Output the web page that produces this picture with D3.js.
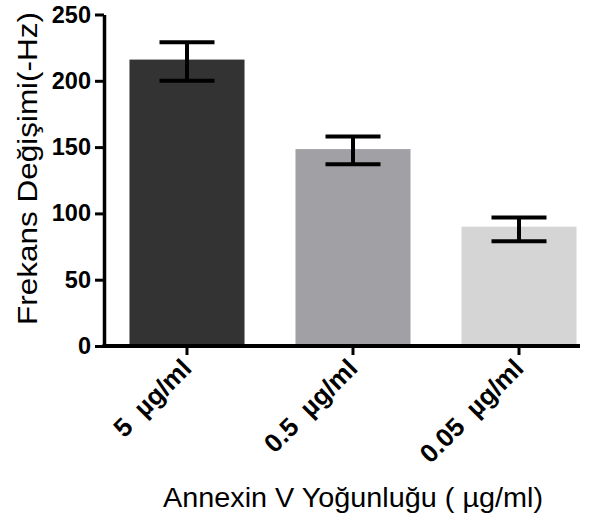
<!DOCTYPE html>
<html>
<head>
<meta charset="utf-8">
<script src="https://cdn.jsdelivr.net/npm/d3@7/dist/d3.min.js"></script>
<style>
  html, body { margin: 0; padding: 0; background: #fff; }
  svg { display: block; }
  text { font-family: "Liberation Sans", Arial, sans-serif; fill: #000; }
</style>
</head>
<body>
<svg id="chart" width="595" height="521"></svg>
<script>
// Frequency shift per Annexin V concentration (mean with error range)
const categories = ["5  µg/ml", "0.5  µg/ml", "0.05  µg/ml"];
const means      = [216, 148.5, 90];
const errHigh    = [229, 158, 97];
const errLow     = [200, 137, 79];
const barColors  = ["#333333", "#a1a1a5", "#d5d5d5"];
const yTicks     = [0, 50, 100, 150, 200, 250];
const yTitle     = "Frekans Değişimi(-Hz)";
const xTitle     = "Annexin V Yoğunluğu ( µg/ml)";

const svg = d3.select("#chart");

const x0 = 104, xEnd = 580;
const y = d3.scaleLinear().domain([0, 250]).range([346, 14.5]);
const x = d3.scaleBand()
  .domain(categories)
  .range([x0, x0 + 498])
  .paddingInner(0.307)
  .paddingOuter(0.1535);

// bars
svg.append("g").selectAll("rect")
  .data(categories)
  .join("rect")
  .attr("x", d => x(d))
  .attr("width", x.bandwidth())
  .attr("y", (d, i) => y(means[i]))
  .attr("height", (d, i) => y(0) - y(means[i]))
  .attr("fill", (d, i) => barColors[i]);

// error bars
const capW = 55;
const eb = svg.append("g").attr("stroke", "#000").attr("stroke-width", 4).attr("fill", "none");
categories.forEach((c, i) => {
  const cx = x(c) + x.bandwidth() / 2;
  eb.append("line").attr("x1", cx).attr("x2", cx).attr("y1", y(errHigh[i])).attr("y2", y(errLow[i]));
  eb.append("line").attr("x1", cx - capW / 2).attr("x2", cx + capW / 2).attr("y1", y(errHigh[i])).attr("y2", y(errHigh[i]));
  eb.append("line").attr("x1", cx - capW / 2).attr("x2", cx + capW / 2).attr("y1", y(errLow[i])).attr("y2", y(errLow[i]));
});

// y axis
const yAxis = svg.append("g")
  .attr("transform", `translate(${x0},0)`)
  .call(d3.axisLeft(y).tickValues(yTicks).tickSize(9).tickSizeOuter(0).tickPadding(4));
yAxis.select(".domain").attr("stroke-width", 3.5);
yAxis.selectAll(".tick line").attr("stroke-width", 3);
yAxis.selectAll(".tick text")
  .attr("font-size", 23.5).attr("font-weight", "bold")
  .attr("font-family", "Liberation Sans, Arial, sans-serif");

// x axis
const xAxis = svg.append("g")
  .attr("transform", `translate(0,${y(0)})`)
  .call(d3.axisBottom(x).tickSize(9).tickSizeOuter(0).tickFormat(() => ""));
xAxis.select(".domain").attr("d", `M${x0 - 1.5},0H${xEnd}`).attr("stroke-width", 4);
xAxis.selectAll(".tick line").attr("stroke-width", 3);

// rotated category labels
svg.append("g").selectAll("text")
  .data(categories)
  .join("text")
  .attr("transform", d => `translate(${x(d) + x.bandwidth() / 2 + 6},${y(0) + 24}) rotate(-45)`)
  .attr("text-anchor", "end")
  .attr("font-size", 26)
  .attr("font-weight", "bold")
  .style("white-space", "pre")
  .attr("xml:space", "preserve")
  .text(d => d);

// axis titles
svg.append("text")
  .attr("transform", "translate(37,168.5) rotate(-90)")
  .attr("text-anchor", "middle")
  .attr("font-size", 28)
  .attr("textLength", 313)
  .attr("lengthAdjust", "spacingAndGlyphs")
  .text(yTitle);

svg.append("text")
  .attr("x", 353)
  .attr("y", 507)
  .attr("text-anchor", "middle")
  .attr("font-size", 27)
  .attr("textLength", 380)
  .attr("lengthAdjust", "spacingAndGlyphs")
  .text(xTitle);
</script>
</body>
</html>
